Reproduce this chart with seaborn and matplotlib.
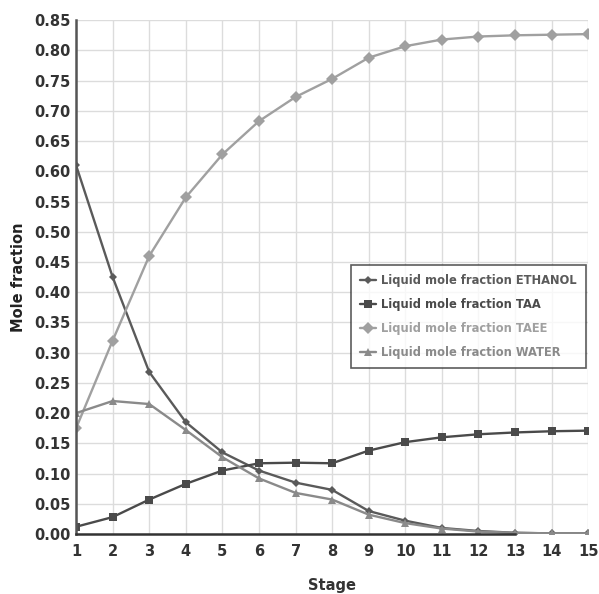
import pandas as pd
import matplotlib.pyplot as plt
import seaborn as sns

# Data
stages = list(range(1, 16))
ethanol = [0.610, 0.425, 0.268, 0.185, 0.135, 0.105, 0.085, 0.073,
           0.038, 0.022, 0.010, 0.005, 0.002, 0.001, 0.001]
taa = [0.012, 0.028, 0.057, 0.083, 0.105, 0.117, 0.118, 0.117,
       0.138, 0.152, 0.160, 0.165, 0.168, 0.170, 0.171]
taee = [0.175, 0.320, 0.460, 0.557, 0.628, 0.683, 0.723, 0.753,
        0.788, 0.807, 0.818, 0.823, 0.825, 0.826, 0.827]
water = [0.200, 0.220, 0.215, 0.172, 0.127, 0.092, 0.068, 0.057,
         0.032, 0.018, 0.009, 0.004, 0.002, 0.001, 0.001]

series_names = ['Liquid mole fraction ETHANOL', 'Liquid mole fraction TAA',
                'Liquid mole fraction TAEE', 'Liquid mole fraction WATER']

df = pd.DataFrame({
    'Stage': stages * 4,
    'value': ethanol + taa + taee + water,
    'series': [n for n in series_names for _ in stages],
})

colors = ['#5a5a5a', '#4a4a4a', '#a0a0a0', '#8a8a8a']
markers = ['D', 's', 'D', '^']
sizes = [4.5, 6, 6, 6]

sns.set_style('white')
plt.rcParams['font.family'] = ['DejaVu Sans']

fig = plt.figure(figsize=(5.99, 5.94), dpi=100)
ax = fig.add_axes([0.127, 0.101, 0.855, 0.865])

for name, col, mk, ms in zip(series_names, colors, markers, sizes):
    sns.lineplot(
        data=df[df['series'] == name], x='Stage', y='value',
        color=col, marker=mk, markersize=ms, markeredgewidth=0,
        linewidth=1.7, label=name, ax=ax
    )

ax.set_xlim(1, 15)
ax.set_ylim(0, 0.85)
ax.set_xticks(stages)
ax.set_yticks([i * 0.05 for i in range(18)])
ax.set_yticklabels([f'{i * 0.05:.2f}' for i in range(18)])
ax.grid(True, color='#dcdcdc', linewidth=1)
ax.set_axisbelow(True)

for s in ['top', 'right']:
    ax.spines[s].set_visible(False)
ax.spines['left'].set_color('#555555')
ax.spines['left'].set_linewidth(1.8)
ax.spines['bottom'].set_color('#333333')
ax.spines['bottom'].set_linewidth(1.8)
ax.spines['bottom'].set_bounds(1, 13)

ax.tick_params(axis='both', length=0, labelsize=10.5, labelcolor='#333333', pad=4)
ax.tick_params(axis='x', pad=7)
for lbl in ax.get_xticklabels() + ax.get_yticklabels():
    lbl.set_fontweight('bold')

ax.set_xlabel('Stage', fontsize=10.5, fontweight='bold', color='#333333', labelpad=14)
ax.set_ylabel('Mole fraction', fontsize=10.5, fontweight='bold', color='#222222', labelpad=6)

leg = ax.legend(loc='upper left', bbox_to_anchor=(0.525, 0.535), fontsize=8.3,
                frameon=True, fancybox=False, edgecolor='#333333',
                handlelength=1.4, handletextpad=0.4, borderpad=0.8,
                labelspacing=0.95)
leg.get_frame().set_linewidth(1.2)
for txt, col in zip(leg.get_texts(), colors):
    txt.set_color(col)
    txt.set_fontweight('bold')

fig.savefig('out.png', dpi=100)
